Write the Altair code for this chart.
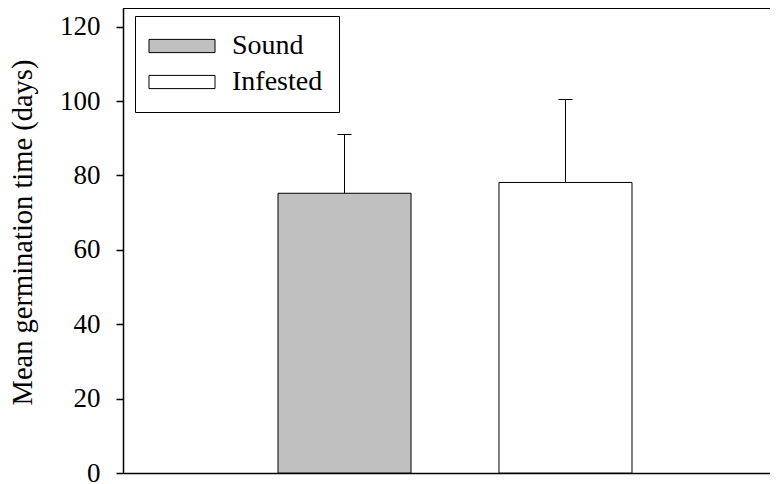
import altair as alt
import pandas as pd

categories = ["Sound", "Infested"]
means = [75.2, 78.1]
errors = [15.8, 22.3]
fill_colors = ["#c0c0c0", "#ffffff"]
y_ticks = [0, 20, 40, 60, 80, 100, 120]

df = pd.DataFrame({"group": categories, "mean": means, "err": errors})

FONT = "Liberation Serif"

base = alt.Chart(df).transform_calculate(upper="datum.mean + datum.err")

x_enc = alt.X(
    "group:N",
    sort=categories,
    scale=alt.Scale(paddingInner=0.398, paddingOuter=0.663, align=0.529),
    axis=alt.Axis(labels=False, ticks=False, title=None, domainColor="black", domainWidth=1.5),
)

y_scale = alt.Scale(domain=[0, 125], nice=False)

bars = base.mark_bar(stroke="black", strokeWidth=1, opacity=1).encode(
    x=x_enc,
    y=alt.Y(
        "mean:Q",
        scale=y_scale,
        axis=alt.Axis(
            values=y_ticks,
            grid=False,
            domainColor="black",
            domainWidth=1.5,
            tickColor="black",
            tickWidth=1.5,
            tickSize=7,
            labelPadding=16,
            labelFont=FONT,
            labelFontSize=27,
            labelColor="black",
            labelFlush=False,
            title="Mean germination time (days)",
            titleFont=FONT,
            titleFontSize=28.5,
            titleFontWeight="normal",
            titleColor="black",
            titlePadding=22,
            titleY=224,
        ),
    ),
    fill=alt.Fill(
        "group:N",
        sort=categories,
        scale=alt.Scale(domain=categories, range=fill_colors),
        legend=alt.Legend(
            title=None,
            orient="none",
            legendX=12,
            legendY=8,
            direction="vertical",
            symbolType="M-2.5,-0.5H2.5V0.5H-2.5Z",
            symbolSize=697,
            symbolStrokeColor="black",
            symbolStrokeWidth=1,
            symbolOpacity=1,
            symbolOffset=17,
            labelFont=FONT,
            labelFontSize=28,
            labelColor="black",
            labelOffset=36,
            strokeColor="black",
            fillColor="white",
            padding=16,
            rowPadding=8,
        ),
    ),
)

err_line = base.mark_rule(color="black", strokeWidth=1).encode(
    x=x_enc, y=alt.Y("mean:Q", scale=y_scale), y2="upper:Q"
)

err_cap = base.mark_tick(color="black", thickness=1, size=14, opacity=1).encode(
    x=x_enc, y=alt.Y("upper:Q", scale=y_scale)
)

top_line = alt.Chart(df).mark_rule(color="black", strokeWidth=2).encode(y=alt.value(0))

chart = (
    alt.layer(bars, err_line, err_cap, top_line)
    .properties(
        width=647,
        height=465,
        autosize=alt.AutoSizeParams(type="none"),
        padding={"left": 115, "top": 0, "right": 0, "bottom": 11},
        background="white",
    )
    .configure(font=FONT)
    .configure_view(stroke=None)
)

chart.save("out.html", embed_options={"renderer": "svg", "actions": False})
